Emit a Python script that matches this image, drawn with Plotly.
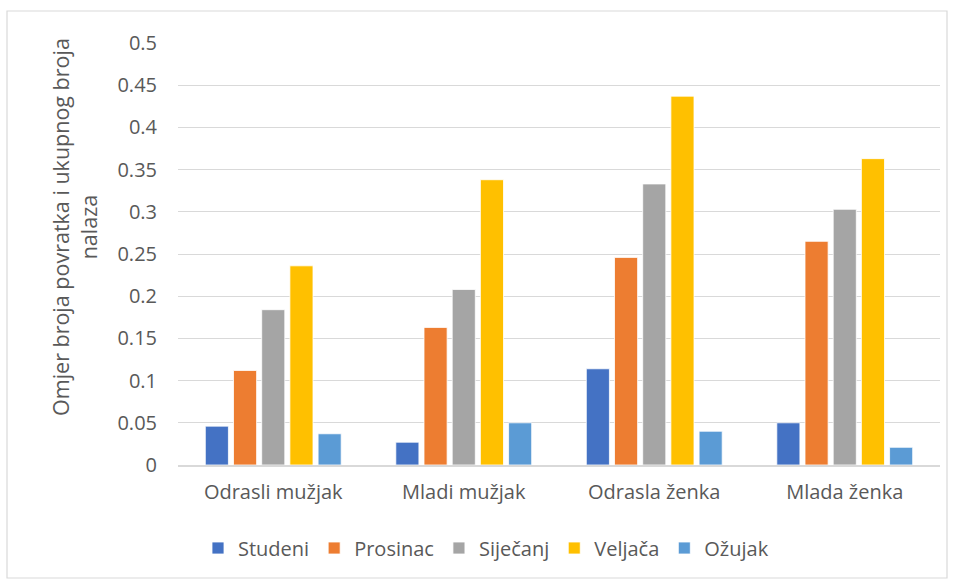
import plotly.graph_objects as go

categories = ["Odrasli mužjak", "Mladi mužjak", "Odrasla ženka", "Mlada ženka"]
series_names = ["Studeni", "Prosinac", "Siječanj", "Veljača", "Ožujak"]
studeni = [0.046, 0.027, 0.114, 0.050]
prosinac = [0.112, 0.163, 0.246, 0.265]
sijecanj = [0.184, 0.208, 0.333, 0.303]
veljaca = [0.236, 0.338, 0.437, 0.363]
ozujak = [0.037, 0.050, 0.040, 0.021]
colors = ["#4472C4", "#ED7D31", "#A5A5A5", "#FFC000", "#5B9BD5"]
tick_vals = [0, 0.05, 0.1, 0.15, 0.2, 0.25, 0.3, 0.35, 0.4, 0.45, 0.5]
tick_text = ["0", "0.05", "0.1", "0.15", "0.2", "0.25", "0.3", "0.35", "0.4", "0.45", "0.5"]
y_title = "Omjer broja povratka i ukupnog broja<br>nalaza"

W, H = 955, 583
L, R, T, B = 178, 15, 43, 118
pw, ph = W - L - R, H - T - B

fig = go.Figure()
for name, vals, c in zip(series_names, [studeni, prosinac, sijecanj, veljaca, ozujak], colors):
    fig.add_trace(go.Bar(x=categories, y=vals, name=name,
                         marker=dict(color=c, line=dict(color="white", width=0.8))))

font_family = "'Open Sans', sans-serif"
fig.update_layout(
    width=W, height=H,
    margin=dict(l=L, r=R, t=T, b=B, autoexpand=False),
    paper_bgcolor="white", plot_bgcolor="white",
    barmode="group", bargap=0.26, bargroupgap=0.18,
    font=dict(family=font_family, color="#595959", size=20),
    showlegend=True,
    legend=dict(orientation="h", x=(198 - L) / pw, xanchor="left", y=-(548 - 465) / ph, yanchor="middle",
                font=dict(size=20, color="#595959"), itemwidth=30, traceorder="normal"),
    xaxis=dict(showgrid=False, showline=True, linecolor="#D9D9D9", linewidth=1.5,
               ticks="", automargin=False, ticklabelstandoff=8,
               tickfont=dict(size=20, color="#595959")),
    yaxis=dict(range=[0, 0.5], tickvals=tick_vals, ticktext=tick_text,
               showgrid=True, gridcolor="#D9D9D9", gridwidth=1.3, zeroline=False,
               showline=False, ticks="", automargin=False, ticklabelstandoff=20,
               tickfont=dict(size=20, color="#595959")),
)

fig.add_annotation(text=y_title, xref="paper", yref="paper", textangle=-90,
                   x=(75 - L) / pw, y=(H - B - 227) / ph, xanchor="center", yanchor="middle",
                   showarrow=False, font=dict(size=21.5, color="#595959"))

fig.add_shape(type="rect", xref="paper", yref="paper",
              x0=(7 - L) / pw, x1=(947 - L) / pw,
              y0=(H - B - 578) / ph, y1=(H - B - 11) / ph,
              line=dict(color="#D9D9D9", width=1.2), fillcolor="rgba(0,0,0,0)", layer="below")

fig.write_html("out.html", config={"displayModeBar": False},
               post_script="document.body.style.margin='0';document.body.style.overflow='hidden';")
